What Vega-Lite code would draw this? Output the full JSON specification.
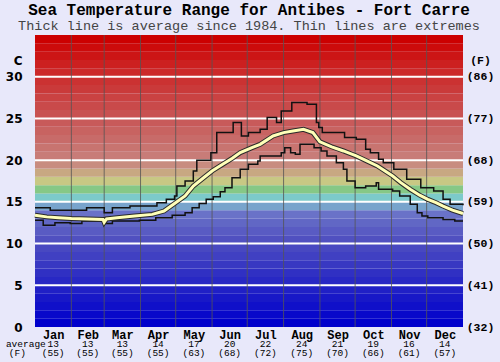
{
  "$schema": "https://vega.github.io/schema/vega-lite/v6.json",
  "width": 428,
  "height": 292,
  "autosize": "none",
  "padding": {"left": 35, "top": 35, "right": 37, "bottom": 35},
  "background": "#e8e8fa",
  "config": {"view": {"stroke": null}},
  "title": {
    "text": "Sea Temperature Range for Antibes - Fort Carre",
    "subtitle": "Thick line is average since 1984. Thin lines are extremes",
    "font": "Liberation Mono",
    "fontSize": 16,
    "fontWeight": "bold",
    "color": "#000000",
    "subtitleFont": "Liberation Mono",
    "subtitleFontSize": 13.5,
    "subtitleColor": "#444444",
    "subtitlePadding": 1,
    "anchor": "middle",
    "offset": 2
  },
  "datasets": {
    "bands": [
      {"lo": 0, "hi": 1}, {"lo": 1, "hi": 2}, {"lo": 2, "hi": 3}, {"lo": 3, "hi": 4}, {"lo": 4, "hi": 5},
      {"lo": 5, "hi": 6}, {"lo": 6, "hi": 7}, {"lo": 7, "hi": 8}, {"lo": 8, "hi": 9}, {"lo": 9, "hi": 10},
      {"lo": 10, "hi": 11}, {"lo": 11, "hi": 12}, {"lo": 12, "hi": 13}, {"lo": 13, "hi": 14}, {"lo": 14, "hi": 15},
      {"lo": 15, "hi": 16}, {"lo": 16, "hi": 17}, {"lo": 17, "hi": 18}, {"lo": 18, "hi": 19}, {"lo": 19, "hi": 20},
      {"lo": 20, "hi": 21}, {"lo": 21, "hi": 22}, {"lo": 22, "hi": 23}, {"lo": 23, "hi": 24}, {"lo": 24, "hi": 25},
      {"lo": 25, "hi": 26}, {"lo": 26, "hi": 27}, {"lo": 27, "hi": 28}, {"lo": 28, "hi": 29}, {"lo": 29, "hi": 30},
      {"lo": 30, "hi": 31}, {"lo": 31, "hi": 32}, {"lo": 32, "hi": 33}, {"lo": 33, "hi": 34}, {"lo": 34, "hi": 35}
    ],
    "hlines": [{"t": 5}, {"t": 10}, {"t": 15}, {"t": 20}, {"t": 25}, {"t": 30}],
    "months": [{"d": 31}, {"d": 59}, {"d": 90}, {"d": 120}, {"d": 151}, {"d": 181}, {"d": 212}, {"d": 243}, {"d": 273}, {"d": 304}, {"d": 334}],
    "table": [
      {"d": -7.8, "c": "average", "f": ""},
      {"d": -15, "c": "", "f": "(F)"},
      {"d": 15.5, "c": "13", "f": "(55)"},
      {"d": 45, "c": "13", "f": "(55)"},
      {"d": 74.5, "c": "13", "f": "(55)"},
      {"d": 105, "c": "14", "f": "(55)"},
      {"d": 135.5, "c": "17", "f": "(63)"},
      {"d": 166, "c": "20", "f": "(68)"},
      {"d": 196.5, "c": "22", "f": "(72)"},
      {"d": 227.5, "c": "24", "f": "(75)"},
      {"d": 258, "c": "21", "f": "(70)"},
      {"d": 288.5, "c": "19", "f": "(66)"},
      {"d": 319, "c": "16", "f": "(61)"},
      {"d": 349.5, "c": "14", "f": "(57)"}
    ],
    "ext": [
      {"s": "max", "d": 0, "t": 14.3}, {"s": "max", "d": 13, "t": 14.0}, {"s": "max", "d": 44, "t": 14.3},
      {"s": "max", "d": 59, "t": 13.7}, {"s": "max", "d": 66, "t": 14.3}, {"s": "max", "d": 81, "t": 14.5},
      {"s": "max", "d": 104, "t": 14.9}, {"s": "max", "d": 112, "t": 15.3}, {"s": "max", "d": 119, "t": 15.7},
      {"s": "max", "d": 121, "t": 16.9}, {"s": "max", "d": 128, "t": 17.5}, {"s": "max", "d": 135, "t": 18.7},
      {"s": "max", "d": 138, "t": 20.0}, {"s": "max", "d": 150, "t": 20.9}, {"s": "max", "d": 155, "t": 23.3},
      {"s": "max", "d": 169, "t": 24.5}, {"s": "max", "d": 176, "t": 22.9}, {"s": "max", "d": 182, "t": 23.3},
      {"s": "max", "d": 192, "t": 23.7}, {"s": "max", "d": 198, "t": 25.1}, {"s": "max", "d": 206, "t": 24.5},
      {"s": "max", "d": 210, "t": 25.9}, {"s": "max", "d": 219, "t": 26.9}, {"s": "max", "d": 232, "t": 26.7},
      {"s": "max", "d": 240, "t": 24.5}, {"s": "max", "d": 242, "t": 23.9}, {"s": "max", "d": 245, "t": 23.3},
      {"s": "max", "d": 264, "t": 22.7}, {"s": "max", "d": 274, "t": 22.5}, {"s": "max", "d": 282, "t": 21.3},
      {"s": "max", "d": 286, "t": 20.9}, {"s": "max", "d": 293, "t": 20.1}, {"s": "max", "d": 297, "t": 19.7},
      {"s": "max", "d": 306, "t": 18.9}, {"s": "max", "d": 317, "t": 17.7}, {"s": "max", "d": 329, "t": 16.7},
      {"s": "max", "d": 340, "t": 16.3}, {"s": "max", "d": 348, "t": 15.3}, {"s": "max", "d": 354, "t": 14.7},
      {"s": "max", "d": 365, "t": 14.6},
      {"s": "min", "d": 0, "t": 12.8}, {"s": "min", "d": 7, "t": 12.2}, {"s": "min", "d": 17, "t": 12.5},
      {"s": "min", "d": 30, "t": 12.4}, {"s": "min", "d": 40, "t": 12.7}, {"s": "min", "d": 59, "t": 12.4},
      {"s": "min", "d": 66, "t": 12.7}, {"s": "min", "d": 89, "t": 12.8}, {"s": "min", "d": 103, "t": 13.1},
      {"s": "min", "d": 117, "t": 13.4}, {"s": "min", "d": 128, "t": 13.7}, {"s": "min", "d": 134, "t": 14.3},
      {"s": "min", "d": 140, "t": 14.8}, {"s": "min", "d": 146, "t": 15.3}, {"s": "min", "d": 152, "t": 15.6},
      {"s": "min", "d": 158, "t": 16.2}, {"s": "min", "d": 162, "t": 16.7}, {"s": "min", "d": 168, "t": 17.9},
      {"s": "min", "d": 175, "t": 18.9}, {"s": "min", "d": 182, "t": 19.5}, {"s": "min", "d": 190, "t": 19.9},
      {"s": "min", "d": 192, "t": 20.5}, {"s": "min", "d": 210, "t": 20.9}, {"s": "min", "d": 213, "t": 21.5},
      {"s": "min", "d": 218, "t": 20.9}, {"s": "min", "d": 222, "t": 20.7}, {"s": "min", "d": 226, "t": 21.9},
      {"s": "min", "d": 238, "t": 21.5}, {"s": "min", "d": 244, "t": 21.1}, {"s": "min", "d": 249, "t": 20.5},
      {"s": "min", "d": 257, "t": 19.7}, {"s": "min", "d": 263, "t": 18.9}, {"s": "min", "d": 266, "t": 17.5},
      {"s": "min", "d": 273, "t": 16.7}, {"s": "min", "d": 282, "t": 16.9}, {"s": "min", "d": 291, "t": 17.3},
      {"s": "min", "d": 293, "t": 16.5}, {"s": "min", "d": 305, "t": 16.3}, {"s": "min", "d": 311, "t": 15.7},
      {"s": "min", "d": 320, "t": 14.7}, {"s": "min", "d": 326, "t": 13.7}, {"s": "min", "d": 330, "t": 13.3},
      {"s": "min", "d": 335, "t": 13.1}, {"s": "min", "d": 348, "t": 12.9}, {"s": "min", "d": 358, "t": 12.7},
      {"s": "min", "d": 365, "t": 12.7}
    ],
    "avg": [
      {"d": 0, "t": 13.4}, {"d": 10, "t": 13.2}, {"d": 20, "t": 13.1}, {"d": 31, "t": 13.0}, {"d": 45, "t": 12.95},
      {"d": 58, "t": 12.9}, {"d": 59, "t": 12.55}, {"d": 61, "t": 12.95}, {"d": 70, "t": 13.1}, {"d": 85, "t": 13.3},
      {"d": 100, "t": 13.5}, {"d": 110, "t": 13.9}, {"d": 119, "t": 14.8}, {"d": 128, "t": 15.7}, {"d": 135, "t": 16.9},
      {"d": 143, "t": 17.8}, {"d": 151, "t": 18.7}, {"d": 160, "t": 19.5}, {"d": 168, "t": 20.2}, {"d": 175, "t": 20.9},
      {"d": 185, "t": 21.5}, {"d": 192, "t": 21.9}, {"d": 203, "t": 22.9}, {"d": 212, "t": 23.3}, {"d": 220, "t": 23.5},
      {"d": 229, "t": 23.7}, {"d": 237, "t": 23.3}, {"d": 243, "t": 22.2}, {"d": 253, "t": 21.6}, {"d": 263, "t": 21.1},
      {"d": 274, "t": 20.5}, {"d": 283, "t": 19.9}, {"d": 292, "t": 19.3}, {"d": 305, "t": 18.1}, {"d": 312, "t": 17.3},
      {"d": 320, "t": 16.5}, {"d": 328, "t": 15.8}, {"d": 335, "t": 15.3}, {"d": 342, "t": 14.9}, {"d": 348, "t": 14.5},
      {"d": 356, "t": 14.0}, {"d": 365, "t": 13.6}
    ]
  },
  "layer": [
    {
      "data": {"name": "bands"},
      "mark": {"type": "rect"},
      "encoding": {
        "y": {
          "field": "lo", "type": "quantitative",
          "scale": {"domain": [0, 35], "nice": false, "zero": true},
          "axis": {
            "orient": "left",
            "values": [0, 5, 10, 15, 20, 25, 30, 31.9],
            "labelExpr": "datum.value > 31 ? 'C' : datum.label",
            "grid": false, "ticks": false, "domain": false, "title": null,
            "labelFont": "DejaVu Sans", "labelFontWeight": "bold", "labelFontSize": 12,
            "labelColor": "#000000", "labelPadding": 13
          }
        },
        "y2": {"field": "hi"},
        "color": {
          "field": "lo", "type": "quantitative", "legend": null,
          "scale": {
            "domain": [0, 5, 10, 13, 14, 15, 16, 17, 18, 19, 20, 25, 30, 34],
            "range": ["#0000cc", "#2828c4", "#5050c0", "#6a72c8", "#78a4cc", "#7ccaca", "#86c886", "#c8c884", "#c8a882", "#c88c80", "#c87c78", "#c85252", "#cc2a2a", "#cc0000"],
            "interpolate": "rgb"
          }
        }
      }
    },
    {
      "data": {"name": "hlines"},
      "mark": {"type": "rule", "color": "#ffffff", "strokeWidth": 2},
      "encoding": {
        "y": {
          "field": "t", "type": "quantitative",
          "scale": {"domain": [0, 35], "nice": false, "zero": true},
          "axis": {
            "orient": "right",
            "values": [0, 5, 10, 15, 20, 25, 30, 31.9],
            "labelExpr": "datum.value > 31 ? '(F)' : '(' + round(datum.value * 9 / 5 + 32) + ')'",
            "grid": false, "ticks": false, "domain": false, "title": null,
            "labelFont": "Liberation Mono", "labelFontWeight": "bold", "labelFontSize": 11.5,
            "labelColor": "#000000", "labelPadding": 17, "labelAlign": "center"
          }
        }
      }
    },
    {
      "data": {"name": "months"},
      "mark": {"type": "rule", "color": "#555555", "strokeWidth": 1, "opacity": 0.8},
      "encoding": {
        "x": {
          "field": "d", "type": "quantitative",
          "scale": {"domain": [0, 365], "nice": false, "zero": true},
          "axis": {
            "orient": "bottom",
            "values": [15.5, 45, 74.5, 105, 135.5, 166, 196.5, 227.5, 258, 288.5, 319, 349.5],
            "labelExpr": "['Jan','Feb','Mar','Apr','May','Jun','Jul','Aug','Sep','Oct','Nov','Dec'][floor(datum.value / 30.42)]",
            "grid": false, "ticks": false, "tickSize": 0, "domain": false, "title": null,
            "labelFont": "Liberation Mono", "labelFontWeight": "bold", "labelFontSize": 12,
            "labelColor": "#000000", "labelPadding": 2, "labelOverlap": false
          }
        }
      }
    },
    {
      "data": {"name": "ext"},
      "mark": {"type": "line", "interpolate": "step-after", "color": "#111111", "strokeWidth": 1.5},
      "encoding": {
        "x": {"field": "d", "type": "quantitative", "scale": {"domain": [0, 365], "nice": false, "zero": true}, "axis": null},
        "y": {"field": "t", "type": "quantitative", "scale": {"domain": [0, 35], "nice": false, "zero": true}, "axis": null},
        "detail": {"field": "s", "type": "nominal"}
      }
    },
    {
      "data": {"name": "avg"},
      "mark": {"type": "line", "color": "#2a2a2a", "strokeWidth": 5},
      "encoding": {
        "x": {"field": "d", "type": "quantitative", "scale": {"domain": [0, 365], "nice": false, "zero": true}, "axis": null},
        "y": {"field": "t", "type": "quantitative", "scale": {"domain": [0, 35], "nice": false, "zero": true}, "axis": null}
      }
    },
    {
      "data": {"name": "avg"},
      "mark": {"type": "line", "color": "#ffffb8", "strokeWidth": 3},
      "encoding": {
        "x": {"field": "d", "type": "quantitative", "scale": {"domain": [0, 365], "nice": false, "zero": true}, "axis": null},
        "y": {"field": "t", "type": "quantitative", "scale": {"domain": [0, 35], "nice": false, "zero": true}, "axis": null}
      }
    },
    {
      "data": {"name": "table"},
      "mark": {"type": "text", "font": "Liberation Mono", "fontSize": 9.5, "color": "#000000", "baseline": "middle", "align": "center"},
      "encoding": {
        "x": {"field": "d", "type": "quantitative", "scale": {"domain": [0, 365], "nice": false, "zero": true}, "axis": null},
        "y": {"datum": -2.0, "type": "quantitative", "scale": {"domain": [0, 35], "nice": false, "zero": true}, "axis": null},
        "text": {"field": "c"}
      }
    },
    {
      "data": {"name": "table"},
      "mark": {"type": "text", "font": "Liberation Mono", "fontSize": 9.5, "color": "#000000", "baseline": "middle", "align": "center"},
      "encoding": {
        "x": {"field": "d", "type": "quantitative", "scale": {"domain": [0, 365], "nice": false, "zero": true}, "axis": null},
        "y": {"datum": -3.1, "type": "quantitative", "scale": {"domain": [0, 35], "nice": false, "zero": true}, "axis": null},
        "text": {"field": "f"}
      }
    }
  ],
  "resolve": {"axis": {"y": "independent", "x": "independent"}}
}
